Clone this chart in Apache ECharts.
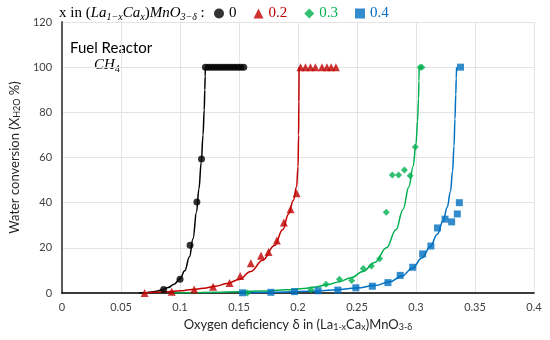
<!DOCTYPE html>
<html><head><meta charset="utf-8">
<script src="https://cdn.jsdelivr.net/npm/echarts@6/dist/echarts.min.js"></script>
<style>html,body{margin:0;padding:0;background:#fff}#c{width:550px;height:340px}</style>
</head><body><div id="c"></div>
<script>
// ---- data ----
const seriesNames = ['0', '0.2', '0.3', '0.4'];
const colors = ['#000000', '#c00000', '#00b050', '#0070c0'];
const symbols = ['circle', 'triangle', 'diamond', 'rect'];
const xTicks = [0, 0.05, 0.1, 0.15, 0.2, 0.25, 0.3, 0.35, 0.4];
const yTicks = [0, 20, 40, 60, 80, 100, 120];

const pts0 = [[0.0861,1.6],[0.100,6.1],[0.1085,21.1],[0.1143,40.3],[0.1182,59.3],
  [0.1215,100],[0.124,100],[0.1265,100],[0.129,100],[0.1315,100],[0.134,100],[0.1365,100],
  [0.139,100],[0.1415,100],[0.144,100],[0.1465,100],[0.149,100],[0.1515,100],[0.154,100]];
const pts02 = [[0.070,0],[0.093,0.5],[0.112,1.6],[0.128,2.8],[0.142,4.4],[0.151,7.5],[0.160,13.2],
  [0.1686,16.5],[0.175,18.2],[0.182,23.2],[0.188,31.2],[0.1937,37.1],[0.1988,44.2],
  [0.2021,100],[0.2063,100],[0.2105,100],[0.2147,100],[0.2203,100],[0.2245,100],[0.2281,100],[0.2321,100]];
const pts03 = [[0.157,0],[0.211,1.4],[0.2237,3.9],[0.2351,6.1],[0.2455,5.5],[0.2553,10.9],[0.2622,12],
  [0.2692,15.2],[0.2748,35.8],[0.2799,52.2],[0.2852,52.2],[0.2902,54.5],[0.295,51.9],[0.2994,64.7],
  [0.3035,100],[0.305,100]];
const pts04 = [[0.153,0.1],[0.177,0.3],[0.197,0.6],[0.217,1],[0.2337,1.3],[0.249,2.3],[0.263,3],
  [0.2762,4.6],[0.2866,7.8],[0.2972,11.4],[0.3056,17.3],[0.3126,20.8],[0.3182,28.8],[0.3246,32.7],
  [0.3302,31.5],[0.335,35],[0.3367,40],[0.3377,100]];

const fit0 = [[0.065,0],[0.07,0.15],[0.075,0.4],[0.08,0.8],[0.085,1.4],[0.09,2.4],[0.095,3.9],[0.1,6.3],
  [0.104,9.8],[0.108,16],[0.111,24],[0.114,36],[0.116,46],[0.118,58],[0.1195,70],[0.1205,81],
  [0.121,90],[0.1213,96],[0.1215,100]];
const fit02 = [[0.07,0],[0.08,0.3],[0.09,0.6],[0.1,1],[0.11,1.5],[0.12,2.1],[0.13,3],[0.14,4.2],
  [0.15,6],[0.16,9.5],[0.17,14.5],[0.18,21],[0.187,28],[0.192,35],[0.196,41],[0.1988,47],
  [0.2,56],[0.2005,70],[0.2007,85],[0.2009,100]];
const fit03 = [[0.093,0],[0.11,0.15],[0.13,0.35],[0.15,0.6],[0.17,0.9],[0.19,1.4],[0.205,2],[0.215,2.7],
  [0.225,3.7],[0.235,5],[0.245,6.8],[0.255,9.5],[0.265,13.5],[0.275,20],[0.283,28],[0.289,37],
  [0.294,47],[0.2975,56],[0.3,66],[0.3013,76],[0.3021,86],[0.3025,94],[0.3027,100]];
const fit04 = [[0.15,0.1],[0.17,0.25],[0.19,0.45],[0.21,0.8],[0.23,1.3],[0.25,2.2],[0.265,3.3],
  [0.278,5],[0.288,7.5],[0.297,11],[0.305,15.5],[0.312,20.5],[0.318,26],[0.323,32],[0.3265,38],
  [0.3292,45],[0.331,54],[0.3322,65],[0.333,77],[0.3337,88],[0.3341,95],[0.3344,100]];

const points = [pts0, pts02, pts03, pts04];
const fits = [fit0, fit02, fit03, fit04];

// ---- text runs (built from plain text pieces) ----
const serif = 'Liberation Serif';
const mctx = document.createElement('canvas').getContext('2d');
function runs(x0, yMid, parts) {
  const els = [];
  let x = x0;
  parts.forEach(p => {
    mctx.font = (p.it ? 'italic ' : '') + p.size + 'px "' + serif + '"';
    const w = mctx.measureText(p.t).width;
    els.push({type: 'text', x: x, y: yMid + (p.dy || 0), silent: true,
      style: {text: p.t, fontFamily: serif, fontSize: p.size, fontStyle: p.it ? 'italic' : 'normal',
        fill: '#000', verticalAlign: 'middle', align: 'left'}});
    x += w;
  });
  return els;
}
const headerParts = [
  {t: 'x in (', size: 15}, {t: 'La', size: 15, it: true}, {t: '1−x', size: 10, it: true, dy: 4},
  {t: 'Ca', size: 15, it: true}, {t: 'x', size: 10, it: true, dy: 4}, {t: ')', size: 15},
  {t: 'MnO', size: 15, it: true}, {t: '3−δ', size: 10, it: true, dy: 4}, {t: ' :', size: 15}
];
const ch4Parts = [{t: 'CH', size: 15, it: true}, {t: '4', size: 10, dy: 4}];

// ---- chart ----
const chart = echarts.init(document.getElementById('c'));
const series = [];
fits.forEach((f, i) => {
  series.push({type: 'line', data: f, showSymbol: false, smooth: 0.4, smoothMonotone: 'x',
    lineStyle: {color: colors[i], width: 1.5}, silent: true, z: 2});
});
points.forEach((p, i) => {
  series.push({type: 'scatter', name: seriesNames[i], data: p, symbol: symbols[i],
    symbolSize: i === 1 ? 8 : 7, itemStyle: {color: colors[i]}, z: 3});
});

chart.setOption({
  animation: false,
  grid: {left: 57, right: 16, top: 22, bottom: 47},
  legend: {
    left: 214, top: 6, padding: 0, itemWidth: 10, itemHeight: 10, itemGap: 17,
    data: seriesNames.map((n, i) => ({name: n, icon: symbols[i], textStyle: {color: colors[i]}})),
    textStyle: {fontFamily: serif, fontSize: 15}
  },
  xAxis: {
    type: 'value', min: 0, max: 0.4, interval: 0.05,
    axisLine: {lineStyle: {color: '#000', width: 1.5}},
    axisTick: {show: false},
    axisLabel: {color: '#404040', fontFamily: 'Lato', fontSize: 11, margin: 9},
    splitLine: {lineStyle: {color: '#e4e4e4'}},
    name: '{a|Oxygen deficiency δ in (La}{s|1-x}{a|Ca}{s|x}{a|)MnO}{s|3-δ}',
    nameLocation: 'middle', nameGap: 20,
    nameTextStyle: {rich: {
      a: {fontFamily: 'Lato', fontSize: 13, color: '#262626'},
      s: {fontFamily: 'Lato', fontSize: 9, color: '#262626', padding: [6, 0, 0, 0]}
    }}
  },
  yAxis: {
    type: 'value', min: 0, max: 120, interval: 20,
    axisLine: {show: true, lineStyle: {color: '#595959', width: 2}},
    axisTick: {show: false},
    axisLabel: {color: '#404040', fontFamily: 'Lato', fontSize: 11, margin: 10},
    splitLine: {lineStyle: {color: '#e4e4e4'}},
    name: '{a|Water conversion (X}{s|H2O}{a| %)}',
    nameLocation: 'middle', nameGap: 29,
    nameTextStyle: {rich: {
      a: {fontFamily: 'Lato', fontSize: 13, color: '#262626'},
      s: {fontFamily: 'Lato', fontSize: 9, color: '#262626', padding: [6, 0, 0, 0]}
    }}
  },
  graphic: [
    ...runs(59, 13, headerParts),
    {type: 'text', x: 70, y: 48, silent: true,
     style: {text: 'Fuel Reactor', fontFamily: 'Lato', fontSize: 15, fill: '#000', verticalAlign: 'middle'}},
    ...runs(94, 65, ch4Parts)
  ],
  series: series
});
</script>
</body></html>
